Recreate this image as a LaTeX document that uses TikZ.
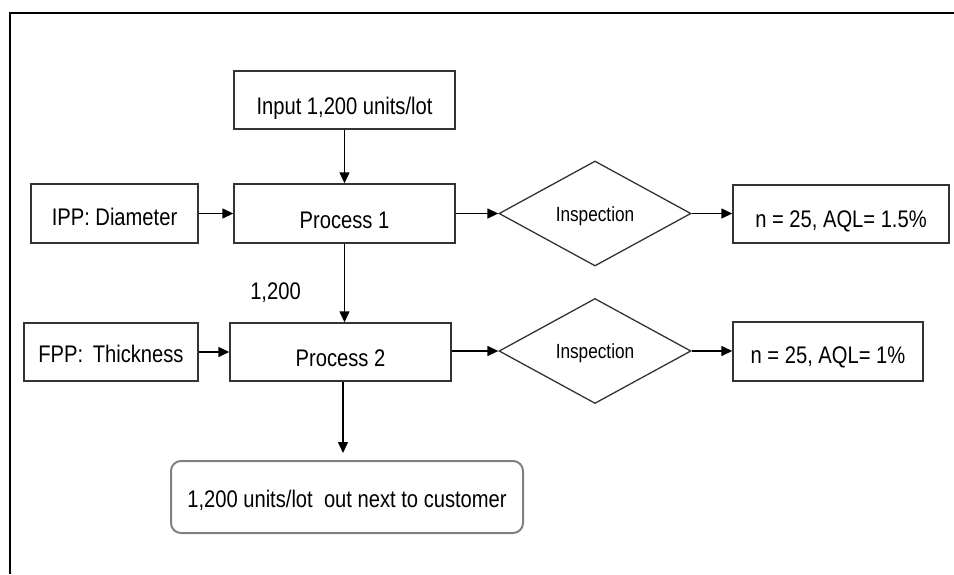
\documentclass[tikz,border=0pt]{standalone}
\usepackage{fontspec}
\setmainfont[FakeStretch=0.84]{Liberation Sans}
\usetikzlibrary{shapes.geometric,arrows.meta}

\tikzset{
  box/.style={draw=black!80, line width=1.4pt, inner sep=0pt,
    font=\fontsize{24}{28}\selectfont, text depth=0pt},
  % text height sets how far the lettering sits below the box centre
  low/.style={text height=#1},
  check/.style={diamond, draw=black!80, line width=1.3pt, inner sep=0pt,
    minimum width=192pt, minimum height=105pt,
    font=\fontsize{20.5}{24}\selectfont, text depth=0pt},
  endbox/.style={box, draw=black!50, line width=2pt, rounded corners=10pt},
  flow/.style={line width=1.4pt, -{Triangle[length=11pt,width=10pt]}},
  frame/.style={line width=2pt}
}

\begin{document}
\begin{tikzpicture}[x=1pt, y=-1pt]
  \useasboundingbox (0,0) rectangle (954,574);

  % outer frame: top and left edges only
  \coordinate (ftop) at (954,13);
  \coordinate (fcorner) at (10,13);
  \coordinate (fbottom) at (10,574);
  \draw[frame] (ftop) -- (fcorner) -- (fbottom);

  % first stage
  \node[box, low=29.2pt, minimum width=221pt, minimum height=58pt] (inp) at (344.5,100) {Input 1,200 units/lot};
  \node[box, low=29.2pt, minimum width=221pt, minimum height=59pt] (p1) at (344.5,213.5) {Process 1};
  \node[box, low=23.2pt, minimum width=167pt, minimum height=59pt] (ipp) at (114.5,213.5) {IPP: Diameter};
  \node[check, text height=16.6pt] (d1) at (595,213.5) {Inspection};
  \node[box, low=26.2pt, minimum width=216pt, minimum height=58pt] (aql1) at (841,214) {n = 25, AQL= 1.5\%};

  % second stage
  \node[box, low=29.2pt, minimum width=221pt, minimum height=58pt] (p2) at (340.5,352) {Process 2};
  \node[box, low=21.2pt, minimum width=174pt, minimum height=58pt] (fpp) at (111,352) {FPP:\hspace{0.4em}Thickness};
  \node[check, text height=14.6pt] (d2) at (595,351) {Inspection};
  \node[box, low=24.2pt, minimum width=190pt, minimum height=59pt] (aql2) at (828,351.5) {n = 25, AQL= 1\%};

  % lot quantity between the processes
  \node[font=\fontsize{24}{28}\selectfont, inner sep=0pt, text depth=0pt, text height=17.2pt] (qty) at (275.5,290.5) {1,200};

  % output
  \node[endbox, low=21.2pt, minimum width=352pt, minimum height=72pt] (out) at (347,497) {1,200 units/lot\ \ out next to customer};
  \coordinate (outtip) at (343,453);

  % connectors
  \draw[flow] (inp.south) -- (p1.north);
  \draw[flow] (ipp.east) -- (p1.west |- ipp.east);
  \draw[flow] (p1.east |- d1.west) -- (d1.west);
  \draw[flow] (d1.east) -- (aql1.west |- d1.east);
  \draw[flow] (p1.south) -- (p1.south |- p2.north);
  \draw[flow] (fpp.east) -- (p2.west |- fpp.east);
  \draw[flow] (p2.east |- d2.west) -- (d2.west);
  \draw[flow] (d2.east) -- (aql2.west |- d2.east);
  \draw[flow] (outtip |- p2.south) -- (outtip);
\end{tikzpicture}
\end{document}
